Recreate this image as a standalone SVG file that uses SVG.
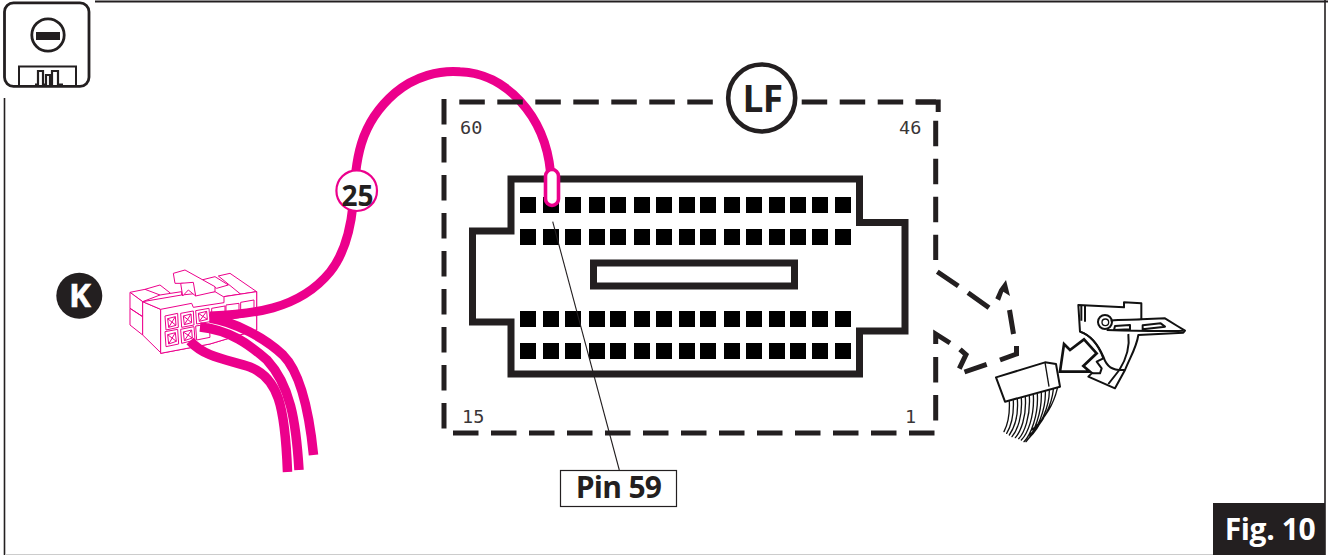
<svg xmlns="http://www.w3.org/2000/svg" width="1328" height="555" viewBox="0 0 1328 555">
<style>
.t{font-family:"Open Sans","Liberation Sans",sans-serif;font-weight:700;fill:#231f20}
.n{font-family:"DejaVu Sans Mono","Liberation Mono",monospace;font-size:18.500px;fill:#3a3637}
.d{fill:none;stroke:#231f20;stroke-width:5;stroke-dasharray:25.5 12.5}
.o{fill:none;stroke:#231f20;stroke-width:7;stroke-miterlimit:10}
.a{fill:none;stroke:#231f20;stroke-width:5;stroke-miterlimit:10}
.w{fill:none;stroke:#ec008c;stroke-width:9.500}
.pk{fill:#fff;stroke:#ec008c;stroke-width:3;stroke-linejoin:round}
.pk2{fill:none;stroke:#ec008c;stroke-width:3;stroke-linejoin:round}
.bl{fill:#fff;stroke:#111;stroke-width:6;stroke-linejoin:round}
.bt{fill:none;stroke:#111;stroke-width:4;stroke-linecap:round}
.pin{fill:#000}
</style>
<g id="frame" fill="none" stroke="#231f20">
<path d="M95 1.500H1328" stroke-width="2"/>
<path d="M4.500 98V555" stroke-width="1.600"/>
<path d="M1325 0V555" stroke-width="1.600"/>
<path d="M5 554.500H1213" stroke="#ccc" stroke-width="1"/>
</g>
<g id="icon" fill="none" stroke="#231f20">
<rect x="4.500" y="2.800" width="84.500" height="83.500" rx="9" fill="#fff" stroke-width="2.800"/>
<circle cx="48" cy="35" r="16.200" stroke-width="2.800"/>
<rect x="36" y="32" width="24" height="8" fill="#231f20" stroke="none"/>
<path d="M19 86V66.500H76V86" stroke-width="2"/>
<path d="M35 84.500H38V71H43V84.500H46V75H50V84.500H52V71H58V84.500H63" stroke-width="2.200"/>
</g>
<g id="badge-k">
<circle cx="79.300" cy="295.700" r="23" fill="#231f20"/>
<text x="80" y="307" text-anchor="middle" class="t" style="fill:#fff;font-size:33px;stroke:#fff;stroke-width:.6px">K</text>
</g>
<g id="plug-k" transform="translate(50 250) scale(.33333)">
<path class="pk" d="M240 127L285 118L330 105L362 130L395 125V145L278 155Z"/>
<path class="pk" d="M240 127V175L278 200V155ZM240 175V225L278 255V200Z"/>
<path class="pk" d="M278 155V255L332 308V178Z"/>
<path class="pk2" d="M285 118L330 135M362 130L330 135L278 155"/>
<path class="pk" d="M455 90L495 80L535 105L500 115ZM505 78L540 70L620 125L575 135Z"/>
<path class="pk" d="M278 155L395 135L495 125L520 140L620 125V240L480 282L332 310V178Z"/>
<path class="pk" d="M332 178L425 160L430 172L522 158V140L620 125V240L480 282L332 310Z"/>
<path class="pk" d="M370 70L405 60L495 110V125L437 138L430 115L400 100L375 100Z"/>
<path class="pk" d="M392 100L430 97L437 138L415 120L398 138Z"/>
<g id="plug-cells">
<path class="pk" d="M345 198L383 190L385 232L348 240ZM392 190L430 183L432 225L395 232ZM437 182L477 175L480 215L440 222ZM345 245L383 238L386 282L348 290ZM392 238L432 230L435 270L395 280ZM437 228L478 222L480 262L440 270ZM485 175L525 168V210L485 218ZM528 165L567 160V203L528 210ZM572 157L612 150V195L572 202Z"/>
<path class="pk2" d="M353 206L376 200L378 226L356 232ZM400 198L423 192L425 218L403 224ZM445 190L470 184L472 208L448 214ZM353 254L376 248L379 274L356 282ZM400 246L425 240L427 264L403 272ZM353 206L378 226M376 200L356 232M400 198L425 218M423 192L403 224M445 190L472 208M470 184L448 214M353 254L379 274M376 248L356 282M400 246L427 264M425 240L403 272"/>
</g>
</g>
<g id="connectors">
<path class="w" style="stroke-width:9" d="M210 316C250 314 298 311 330 272C346 252 351 225 353 205C356 160 358 125 395 93C415 76 440 70 460 71.700C505 73 545 115 550.500 172"/>
<path class="w" d="M190 341C205 358 230 360 250 367C278 378 285 405 287.500 472"/>
<path class="w" d="M200 327C230 330 250 345 267 360C290 385 296 420 299 470"/>
<path class="w" d="M210 318C235 322 265 338 283 355C303 375 310 420 313.500 455"/>
<path class="a" d="M937.300 271.700L958.300 286M968 292.700L989 307.700M1009.500 310L1013.500 334M1000 360L1016.500 354V346M964.500 372L986.700 364.300M960 349.300L966 354.700L959.300 368.700M935.700 344V334L950 343"/>
<path d="M1006 280L1010 296L1003.300 291.700L1000 300.700L995.300 298.300L999.300 289.300Z" fill="#231f20"/>
</g>
<g id="lf-outline">
<path class="d" d="M444 99V430"/>
<path class="d" d="M459.300 102H713"/>
<path class="d" d="M801.700 102H936"/>
<path d="M915.700 102H938.200V112" class="a"/>
<path class="d" d="M935.700 120.700V260"/>
<path class="d" d="M935.700 357V421"/>
<path class="d" d="M453 433H935"/>
<circle cx="761.700" cy="98" r="33.500" fill="#fff" stroke="#231f20" stroke-width="4.600"/>
<text x="762.500" y="111.700" text-anchor="middle" class="t" style="font-size:37px;letter-spacing:-.5px">LF</text>
<text x="460" y="134" class="n">60</text>
<text x="899" y="134" class="n">46</text>
<text x="462" y="422.700" class="n">15</text>
<text x="905" y="422.700" class="n">1</text>
</g>
<g id="lf-connector">
<path class="o" d="M511 179H859.500V222.500H905V331H859.500V374H511V322H472.500V231H511Z"/>
<rect class="o" x="593.500" y="263" width="201" height="23"/>
<path id="lf-pins" class="pin" d="M520 197h16v16h-16zM543 197h16v16h-16zM565 197h16v16h-16zM589 197h16v16h-16zM610 197h16v16h-16zM634 197h16v16h-16zM656 197h16v16h-16zM679 197h16v16h-16zM700 197h16v16h-16zM724 197h16v16h-16zM746 197h16v16h-16zM769 197h16v16h-16zM790 197h16v16h-16zM812 197h16v16h-16zM835 197h16v16h-16zM520 229h16v16h-16zM543 229h16v16h-16zM565 229h16v16h-16zM589 229h16v16h-16zM610 229h16v16h-16zM634 229h16v16h-16zM656 229h16v16h-16zM679 229h16v16h-16zM700 229h16v16h-16zM724 229h16v16h-16zM746 229h16v16h-16zM769 229h16v16h-16zM790 229h16v16h-16zM812 229h16v16h-16zM835 229h16v16h-16zM520 311h16v16h-16zM543 311h16v16h-16zM565 311h16v16h-16zM589 311h16v16h-16zM610 311h16v16h-16zM634 311h16v16h-16zM656 311h16v16h-16zM679 311h16v16h-16zM700 311h16v16h-16zM724 311h16v16h-16zM746 311h16v16h-16zM769 311h16v16h-16zM790 311h16v16h-16zM812 311h16v16h-16zM835 311h16v16h-16zM520 343h16v16h-16zM543 343h16v16h-16zM565 343h16v16h-16zM589 343h16v16h-16zM610 343h16v16h-16zM634 343h16v16h-16zM656 343h16v16h-16zM679 343h16v16h-16zM700 343h16v16h-16zM724 343h16v16h-16zM746 343h16v16h-16zM769 343h16v16h-16zM790 343h16v16h-16zM812 343h16v16h-16zM835 343h16v16h-16z"/>
<path d="M552.700 221.700L619.300 470" fill="none" stroke="#231f20" stroke-width="1.100"/>
</g>
<g id="pin-marker">
<rect x="545.500" y="169.500" width="13" height="36" rx="6.500" fill="#fff" stroke="#ec008c" stroke-width="3.600"/>
</g>
<g id="badge-25">
<circle cx="356.700" cy="190.700" r="20.300" fill="#fff" stroke="#ec008c" stroke-width="2.200"/>
<text x="357.500" y="205.700" text-anchor="middle" class="t" style="font-size:28px">25</text>
</g>
<g id="pin-59">
<rect x="560.500" y="470.500" width="116" height="36" fill="#fff" stroke="#231f20" stroke-width="1.200"/>
<text x="618.500" y="498" text-anchor="middle" class="t" style="font-size:30px;letter-spacing:-.7px">Pin 59</text>
</g>
<g id="unplug" transform="translate(920 260) scale(.33333)">
<g id="unplug-wires">
<path class="bt" d="M268 425C270 470 262 495 252 515M280 422C282 470 272 500 260 520M292 418C296 470 282 505 268 525M304 415C308 470 292 510 276 530M316 412C320 470 302 515 286 533M328 408C332 470 312 520 296 536M340 405C344 470 322 522 304 540M352 402C356 465 332 525 312 545M364 398C366 460 342 520 318 545M376 395C378 450 352 510 322 540M388 392C388 440 362 500 326 535M400 388C396 430 372 490 328 525M412 385C404 420 382 470 335 510"/>
</g>
<path class="bl" d="M228 352L375 307L408 312L420 380L255 425Z"/>
<path class="bl" style="stroke-width:4" d="M375 307L387 380"/>
<g id="clip">
<path class="bl" style="stroke-width:6" d="M475 135L612 142V127L664 130V178L735 175L772 198L795 212L790 218L655 225C650 262 630 292 615 330L585 385L505 350L515 340L540 340L545 325L530 305L550 295C535 255 510 225 480 215Z"/>
<path class="bl" style="stroke-width:6;fill:none" d="M480 215C510 225 535 255 550 290C560 320 575 332 615 330M625 222C630 260 620 295 598 330L565 372M484 135V182M495 136V185"/>
<circle cx="555" cy="186" r="21" class="bl" style="stroke-width:6"/>
<circle cx="556" cy="187" r="10" class="bl" style="stroke-width:4"/>
<path class="bl" style="stroke-width:6" d="M572 182C600 178 640 180 664 178M560 210C620 212 720 215 790 212M585 198L630 195V208L582 210ZM668 196L722 190L735 200L668 208Z"/>
</g>
<path class="bl" style="stroke-width:8;stroke-linejoin:miter" d="M432 252L450 270L492 238L530 280L490 318L510 335H420Z"/>
</g>
<g id="fig-label">
<rect x="1213" y="503" width="112" height="52" fill="#231f20"/>
<text x="1270" y="540" text-anchor="middle" class="t" style="fill:#fff;font-size:30px;letter-spacing:-.4px">Fig. 10</text>
</g>
</svg>
